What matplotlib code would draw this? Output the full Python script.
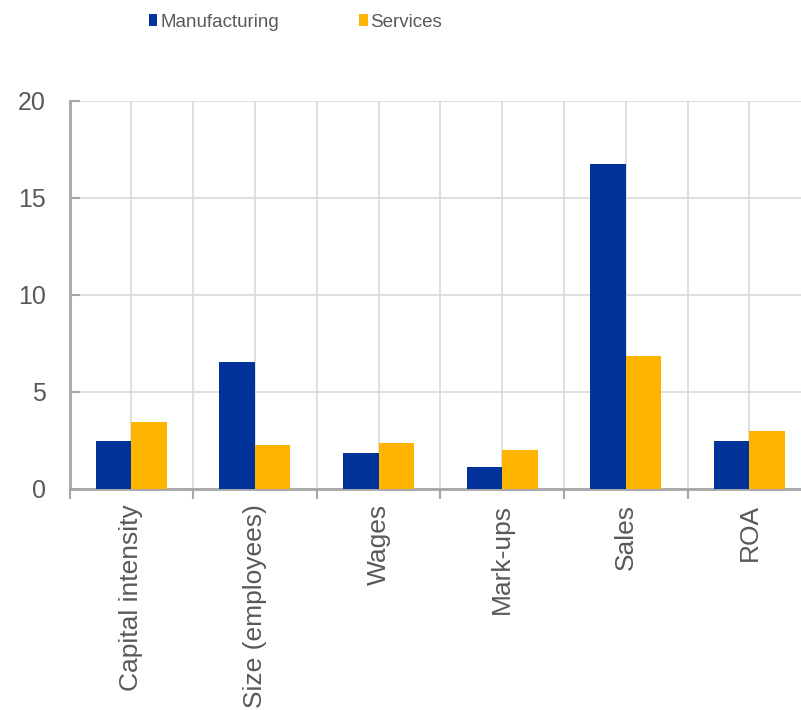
import matplotlib
matplotlib.use("Agg")
import matplotlib.pyplot as plt
import numpy as np

# --- DATA ---
categories = ["Capital intensity", "Size (employees)", "Wages", "Mark-ups", "Sales", "ROA"]
manufacturing = [2.45, 6.57, 1.86, 1.13, 16.76, 2.49]
services = [3.47, 2.29, 2.37, 1.99, 6.87, 2.97]
y_ticks = [0, 5, 10, 15, 20]

# --- STYLE ---
BLUE = "#003299"
YELLOW = "#FFB400"
TEXT = "#595959"
GRID = "#d9d9d9"
SPINE = "#a6a6a6"

plt.rcParams['font.family'] = ['Liberation Sans', 'DejaVu Sans']

fig = plt.figure(figsize=(8.01, 7.10), dpi=100)
ax = fig.add_axes([0.0868, 0.3113, 0.926, 0.5465])

x = np.arange(len(categories))
w = 0.287
ax.bar(x - w / 2, manufacturing, width=w, color=BLUE, label="Manufacturing", zorder=3)
ax.bar(x + w / 2, services, width=w, color=YELLOW, label="Services", zorder=3)

ax.set_xlim(-0.5, len(categories) - 0.5)
ax.set_ylim(0, 20)
ax.set_yticks(y_ticks)

# labels at category centres, tick marks at category boundaries
ax.set_xticks(x)
ax.set_xticklabels(categories, rotation=90, fontsize=19, color=TEXT)
ax.set_xticks(np.arange(-0.5, len(categories), 1.0), minor=True)
ax.tick_params(axis='x', which='major', length=0, pad=11)
ax.tick_params(axis='x', which='minor', length=7, width=1.5, color=SPINE)
ax.tick_params(axis='y', direction='in', length=7, width=1.5, color=SPINE,
               labelsize=18, labelcolor=TEXT, pad=17)

ax.grid(True, which='both', axis='x', color=GRID, linewidth=1.2, zorder=0)
ax.grid(True, which='major', axis='y', color=GRID, linewidth=1.2, zorder=0)

for side in ['top', 'right']:
    ax.spines[side].set_visible(False)
for side in ['left', 'bottom']:
    ax.spines[side].set_color(SPINE)
    ax.spines[side].set_linewidth(2)
ax.set_axisbelow(True)

leg = fig.legend(loc='center left', bbox_to_anchor=(149 / 801, 0.969), ncol=2, frameon=False,
                 borderpad=0, borderaxespad=0,
                 handlelength=0.43, handleheight=0.64, handletextpad=0.16,
                 columnspacing=4.3, fontsize=13.5)
for t in leg.get_texts():
    t.set_color(TEXT)

fig.savefig("out.png", dpi=100)
